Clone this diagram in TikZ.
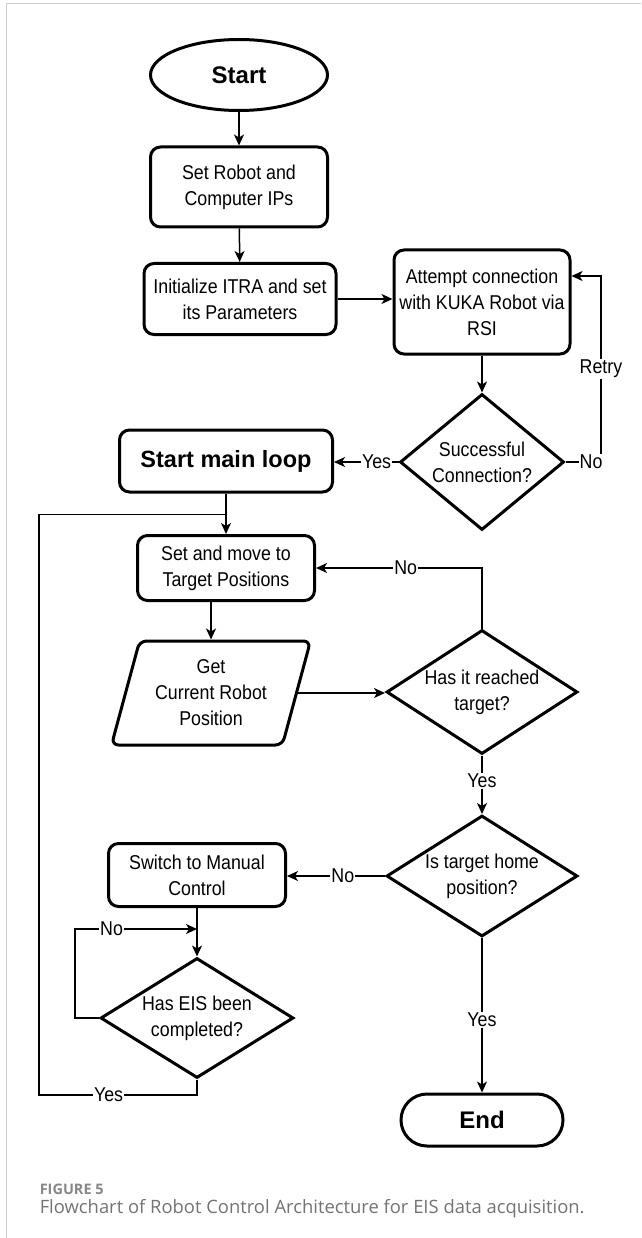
\documentclass[tikz,border=0pt]{standalone}
\usepackage{fontspec}
\setmainfont{Liberation Sans}[FakeStretch=0.89]
\newfontfamily\titlefont{Liberation Sans}
\newfontfamily\capfont{Open Sans}
\usepackage{tikz}
\usetikzlibrary{shapes.geometric, arrows.meta}

\definecolor{framegray}{RGB}{204,204,204}
\definecolor{figgray}{RGB}{135,135,135}
\definecolor{capgray}{RGB}{115,115,115}

\begin{document}
\begin{tikzpicture}[x=1pt, y=-1pt, line width=1.5pt,
    every node/.style={font=\fontsize{20}{26}\selectfont, align=center},
    term/.style={draw, line width=3pt, inner sep=0pt, font=\titlefont\bfseries\fontsize{24}{28}\selectfont},
    proc/.style={draw, line width=3pt, rounded corners=10pt, inner sep=2pt},
    decision/.style={draw, line width=3pt, diamond, inner sep=0pt},
    io/.style={draw, line width=3pt, trapezium, trapezium left angle=67, trapezium right angle=113,
      trapezium stretches body, rounded corners=7pt, inner sep=0pt},
    lbl/.style={fill=white, inner sep=1pt, font=\fontsize{20}{22}\selectfont},
    arr/.style={-{Stealth[length=11pt, width=10pt, inset=3pt]}}]
    \useasboundingbox (0,0) rectangle (641,1238);

    % draw page frame
    \draw[framegray, line width=1pt] (6,1238) -- (6,4) -- (641,4);

    % draw nodes
    \node[term, ellipse, minimum width=177pt, minimum height=71pt] (start) at (239,75) {Start};
    \node[proc, minimum width=177pt, minimum height=80pt] (setip) at (239,187) {Set Robot and\\Computer IPs};
    \node[proc, minimum width=192pt, minimum height=71pt] (init) at (240,299) {Initialize ITRA and set\\its Parameters};
    \node[proc, minimum width=176pt, minimum height=104pt] (attempt) at (482,302) {Attempt connection\\with KUKA Robot via\\RSI};
    \node[decision, aspect=1.2, minimum width=164pt, minimum height=136pt] (success) at (482,462) {Successful\\Connection?};
    \node[proc, minimum width=213pt, minimum height=62pt, font=\titlefont\bfseries\fontsize{23.5}{28}\selectfont] (mainloop) at (226,461) {Start main loop};
    \node[proc, minimum width=177pt, minimum height=65pt] (setmove) at (226,568) {Set and move to\\Target Positions};
    \node[io, minimum width=199pt, minimum height=104pt] (getpos) at (211,693) {Get\\Current Robot\\Position};
    \node[decision, aspect=1.54, minimum width=191pt, minimum height=124pt] (reached) at (482,692) {Has it reached\\target?};
    \node[decision, aspect=1.58, minimum width=191pt, minimum height=121pt] (home) at (482,876) {Is target home\\position?};
    \node[proc, minimum width=177pt, minimum height=63pt] (manual) at (197,875) {Switch to Manual\\Control};
    \node[decision, aspect=1.6, minimum width=193pt, minimum height=120pt] (eis) at (197,1018) {Has EIS been\\completed?};
    \node[term, rounded corners=26pt, minimum width=162pt, minimum height=52pt] (finish) at (482,1120) {End};

    % draw joints of the loops
    \coordinate (retrycorner) at (601,462);
    \coordinate (loopjoin) at ([yshift=-21pt]mainloop.south);
    \coordinate (eisjoin) at ([yshift=-21pt]manual.south);

    % draw connectors
    \draw[arr] (start) -- (setip);
    \draw[arr] (setip) -- (init);
    \draw[arr] (init.east) -- (init.east -| attempt.west);
    \draw[arr] (attempt) -- (success);
    \draw[arr] (success.east) -- node[lbl, pos=0.72] {No} (retrycorner)
      |- node[lbl, pos=0.25] {Retry} ([yshift=26pt]attempt.east);
    \draw[arr] (success.west) -- node[lbl, pos=0.34] {Yes} (success.west -| mainloop.east);
    \draw[arr] (mainloop) -- (setmove);
    \draw[arr] (getpos.north |- setmove.south) -- (getpos.north);
    \draw[arr] (getpos.east) -- (getpos.east -| reached.west);
    \draw[arr] (reached.north) |- node[lbl, pos=0.73] {No} (setmove.east);
    \draw[arr] (reached) -- node[lbl, pos=0.43] {Yes} (home);
    \draw[arr] (home.west) -- node[lbl, pos=0.43] {No} (home.west -| manual.east);
    \draw[arr] (home) -- node[lbl, pos=0.53] {Yes} (finish);
    \draw[arr] (manual) -- (eis);
    \draw[arr] (eis.west) -- ++(-24,0) |- node[lbl, pos=0.65] {No} (eisjoin);
    \draw (eis.south) |- node[lbl, pos=0.78] {Yes} (39,1095) |- (loopjoin);

    % draw caption
    \node[anchor=base west, inner sep=0pt, text=figgray, font=\capfont\bfseries\fontsize{14.5}{16}\selectfont] (figlabel) at (39,1194) {FIGURE 5};
    \node[anchor=base west, inner sep=0pt, text=capgray, font=\capfont\fontsize{18.4}{20}\selectfont] (figcaption) at (39,1213) {Flowchart of Robot Control Architecture for EIS data acquisition.};

\end{tikzpicture}
\end{document}
